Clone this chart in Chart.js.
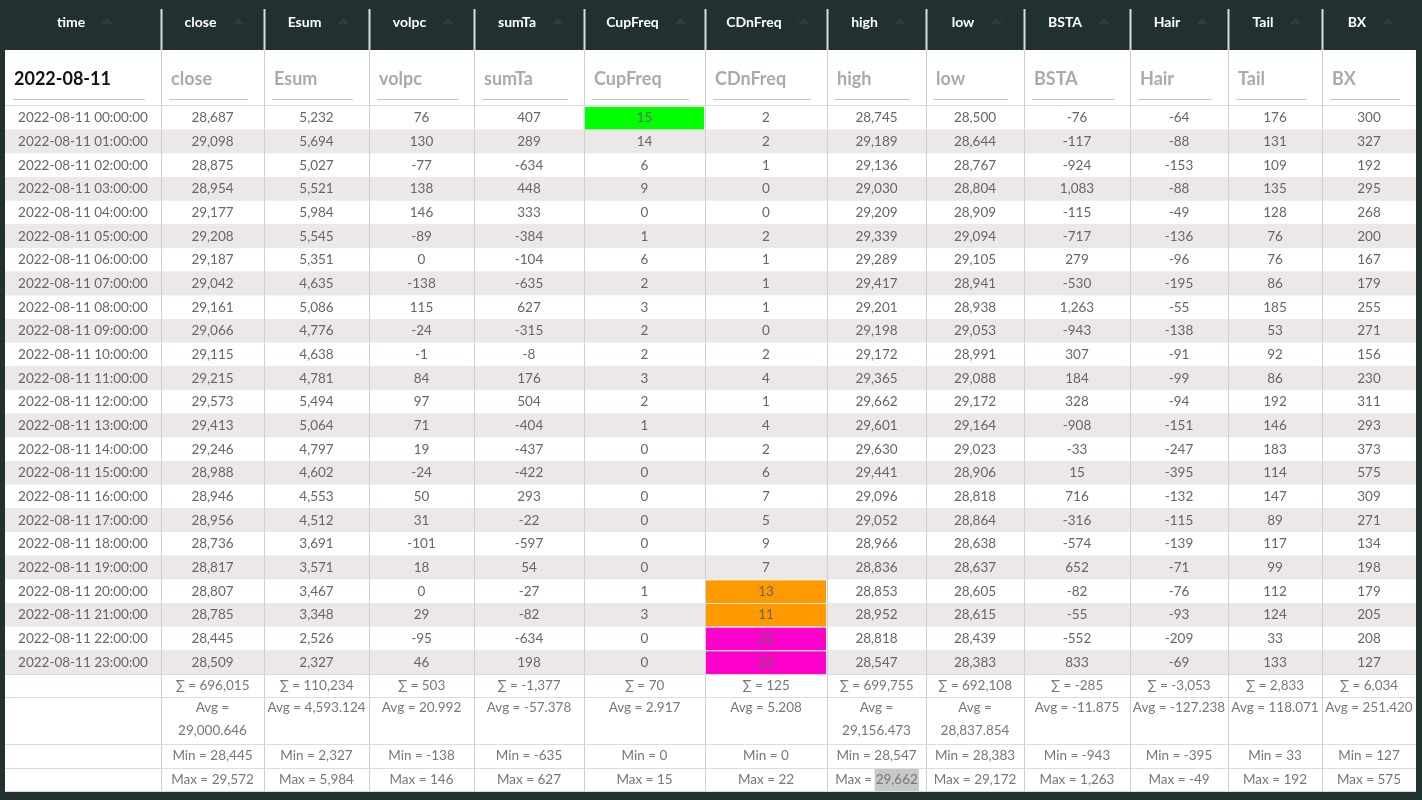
<!DOCTYPE html>
<html><head><meta charset="utf-8">
<script src="https://cdn.jsdelivr.net/npm/chart.js@4"></script>
<style>html,body{margin:0;padding:0;background:#213130;}canvas{display:block}</style>
</head><body>
<div style="width:1422px;height:800px"><canvas id="c"></canvas></div>
<script>
const columns = ["time","close","Esum","volpc","sumTa","CupFreq","CDnFreq","high","low","BSTA","Hair","Tail","BX"];
const hours = ["00","01","02","03","04","05","06","07","08","09","10","11","12","13","14","15","16","17","18","19","20","21","22","23"];
const times = hours.map(h => "2022-08-11 " + h + ":00:00");
const close = [28687,29098,28875,28954,29177,29208,29187,29042,29161,29066,29115,29215,29573,29413,29246,28988,28946,28956,28736,28817,28807,28785,28445,28509];
const Esum = [5232,5694,5027,5521,5984,5545,5351,4635,5086,4776,4638,4781,5494,5064,4797,4602,4553,4512,3691,3571,3467,3348,2526,2327];
const volpc = [76,130,-77,138,146,-89,0,-138,115,-24,-1,84,97,71,19,-24,50,31,-101,18,0,29,-95,46];
const sumTa = [407,289,-634,448,333,-384,-104,-635,627,-315,-8,176,504,-404,-437,-422,293,-22,-597,54,-27,-82,-634,198];
const CupFreq = [15,14,6,9,0,1,6,2,3,2,2,3,2,1,0,0,0,0,0,0,1,3,0,0];
const CDnFreq = [2,2,1,0,0,2,1,1,1,0,2,4,1,4,2,6,7,5,9,7,13,11,22,22];
const high = [28745,29189,29136,29030,29209,29339,29289,29417,29201,29198,29172,29365,29662,29601,29630,29441,29096,29052,28966,28836,28853,28952,28818,28547];
const low = [28500,28644,28767,28804,28909,29094,29105,28941,28938,29053,28991,29088,29172,29164,29023,28906,28818,28864,28638,28637,28605,28615,28439,28383];
const BSTA = [-76,-117,-924,1083,-115,-717,279,-530,1263,-943,307,184,328,-908,-33,15,716,-316,-574,652,-82,-55,-552,833];
const Hair = [-64,-88,-153,-88,-49,-136,-96,-195,-55,-138,-91,-99,-94,-151,-247,-395,-132,-115,-139,-71,-76,-93,-209,-69];
const Tail = [176,131,109,135,128,76,76,86,185,53,92,86,192,146,183,114,147,89,117,99,112,124,33,133];
const BX = [300,327,192,295,268,200,167,179,255,271,156,230,311,293,373,575,309,271,134,198,179,205,208,127];
const sumRow = ["","∑ = 696,015","∑ = 110,234","∑ = 503","∑ = -1,377","∑ = 70","∑ = 125","∑ = 699,755","∑ = 692,108","∑ = -285","∑ = -3,053","∑ = 2,833","∑ = 6,034"];
const avgRow = ["","Avg = 29,000.646","Avg = 4,593.124","Avg = 20.992","Avg = -57.378","Avg = 2.917","Avg = 5.208","Avg = 29,156.473","Avg = 28,837.854","Avg = -11.875","Avg = -127.238","Avg = 118.071","Avg = 251.420"];
const minRow = ["","Min = 28,445","Min = 2,327","Min = -138","Min = -635","Min = 0","Min = 0","Min = 28,547","Min = 28,383","Min = -943","Min = -395","Min = 33","Min = 127"];
const maxRow = ["","Max = 29,572","Max = 5,984","Max = 146","Max = 627","Max = 15","Max = 22","Max = 29,662","Max = 29,172","Max = 1,263","Max = -49","Max = 192","Max = 575"];
const filterText = ["2022-08-11","close","Esum","volpc","sumTa","CupFreq","CDnFreq","high","low","BSTA","Hair","Tail","BX"];
const series = [close,Esum,volpc,sumTa,CupFreq,CDnFreq,high,low,BSTA,Hair,Tail,BX];

// layout (not data)
const colEdges = [5,161,264,369,474,584,705,827,926,1024,1130,1228,1322,1416];
const wrapAvg = [false,true,false,false,false,false,false,true,true,false,false,false,false];
const highlight = {"5-0":"#00ff00","6-20":"#ff9900","6-21":"#ff9900","6-22":"#ff00cc","6-23":"#ff00cc"};
const fmt = v => v.toLocaleString("en-US");
const F = "Lato, 'Noto Sans', sans-serif";

const tablePlugin = {
  id:"table",
  afterDraw(chart){
    const ctx = chart.ctx, y = chart.scales.y, W = chart.width;
    const top = chart.chartArea.top, bot = chart.chartArea.bottom;
    const rh = (bot - top) / times.length;
    ctx.save();
    ctx.fillStyle = "#213130"; ctx.fillRect(0,0,W,chart.height);
    ctx.fillStyle = "#ffffff"; ctx.fillRect(5,50,1411,742);
    times.forEach((t,i)=>{
      const cy = y.getPixelForValue(i);
      ctx.fillStyle = i%2 ? "#ece8e8" : "#ffffff";
      ctx.fillRect(5, cy-rh/2, 1411, rh);
      series.forEach((s,j)=>{
        const c = highlight[(j+1)+"-"+i];
        if (c){ ctx.fillStyle=c; ctx.fillRect(colEdges[j+1]+1, cy-rh/2+1, colEdges[j+2]-colEdges[j+1]-2, rh-1); }
      });
      ctx.fillStyle = "#666"; ctx.font = "13.5px "+F; ctx.textAlign="center"; ctx.textBaseline="middle";
      ctx.fillText(t, (colEdges[0]+colEdges[1])/2, cy);
      series.forEach((s,j)=>{ ctx.fillText(fmt(s[i]), (colEdges[j+1]+colEdges[j+2])/2, cy); });
      ctx.strokeStyle="#dcdcdc"; ctx.lineWidth=1;
      ctx.beginPath(); ctx.moveTo(5, cy+rh/2+0.5); ctx.lineTo(1416, cy+rh/2+0.5); ctx.stroke();
    });
    ctx.fillStyle="#213130"; ctx.fillRect(5,5,1411,45);
    columns.forEach((c,j)=>{
      const cx=(colEdges[j]+colEdges[j+1])/2;
      ctx.font="bold 14px "+F; ctx.fillStyle="#fff"; ctx.textAlign="center"; ctx.textBaseline="middle";
      ctx.fillText(c,cx-12,22);
      const tw=ctx.measureText(c).width;
      const ax=cx-12+tw/2+22;
      ctx.fillStyle="#2f3d3c"; ctx.beginPath(); ctx.moveTo(ax-6,24); ctx.lineTo(ax+6,24); ctx.lineTo(ax,18); ctx.closePath(); ctx.fill();
      ctx.textAlign="left";
      if(j===0){ ctx.font="bold 18px "+F; ctx.fillStyle="#111"; ctx.fillText(filterText[j], colEdges[j]+9, 79); }
      else { ctx.font="bold 18px "+F; ctx.fillStyle="#aaaaaa"; ctx.fillText(filterText[j], colEdges[j]+10, 79); }
      ctx.strokeStyle="#c4c4c4"; ctx.beginPath(); ctx.moveTo(colEdges[j]+8,99.5); ctx.lineTo(colEdges[j+1]-16,99.5); ctx.stroke();
    });
    ctx.strokeStyle="#dcdcdc"; ctx.beginPath(); ctx.moveTo(5,top-0.5); ctx.lineTo(1416,top-0.5); ctx.stroke();
    const fr=[[bot,bot+23,sumRow],[bot+23,bot+70,avgRow],[bot+70,bot+94,minRow],[bot+94,bot+117,maxRow]];
    ctx.font="13.5px "+F; ctx.textAlign="center"; ctx.textBaseline="middle";
    fr.forEach(([a,b,row],k)=>{
      row.forEach((txt,j)=>{
        if(!txt) return;
        const cx=(colEdges[j]+colEdges[j+1])/2;
        ctx.fillStyle="#777";
        if(k===1){
          if(wrapAvg[j]){
            const p=txt.split("= ");
            ctx.fillText(p[0]+"=",cx,a+11); ctx.fillText(p[1],cx,a+34);
          } else ctx.fillText(txt,cx,a+11);
        } else {
          if(k===3 && j===7){
            const p=txt.split("= "); const w0=ctx.measureText(p[0]+"= ").width, w1=ctx.measureText(p[1]).width;
            const sx=cx-(w0+w1)/2;
            ctx.fillStyle="#c8c8c8"; ctx.fillRect(sx+w0-1,a+1,w1+2,b-a-1); ctx.fillStyle="#777";
          }
          ctx.fillText(txt,cx,(a+b)/2);
        }
      });
      ctx.strokeStyle="#dcdcdc"; ctx.beginPath(); ctx.moveTo(5,b+0.5); ctx.lineTo(1416,b+0.5); ctx.stroke();
    });
    colEdges.slice(1,-1).forEach(x=>{
      ctx.strokeStyle="#d0d0d0"; ctx.beginPath(); ctx.moveTo(x+0.5,50); ctx.lineTo(x+0.5,792); ctx.stroke();
      ctx.strokeStyle="#d8dcdc"; ctx.lineWidth=2; ctx.beginPath(); ctx.moveTo(x+0.5,9); ctx.lineTo(x+0.5,50); ctx.stroke(); ctx.lineWidth=1;
    });
    ctx.fillStyle="#213130"; ctx.fillRect(0,792,W,8);
    ctx.restore();
  }
};

new Chart(document.getElementById("c"),{
  type:"bar",
  data:{labels:times,datasets:[{data:times.map(()=>0),backgroundColor:"rgba(0,0,0,0)"}]},
  options:{
    responsive:true, maintainAspectRatio:false, animation:false,
    layout:{padding:{top:106,bottom:126,left:0,right:0}},
    indexAxis:"y",
    plugins:{legend:{display:false},tooltip:{enabled:false}},
    scales:{y:{type:"category",display:false,offset:true},x:{display:false,min:0,max:1}}
  },
  plugins:[tablePlugin]
});
</script>
</body></html>
